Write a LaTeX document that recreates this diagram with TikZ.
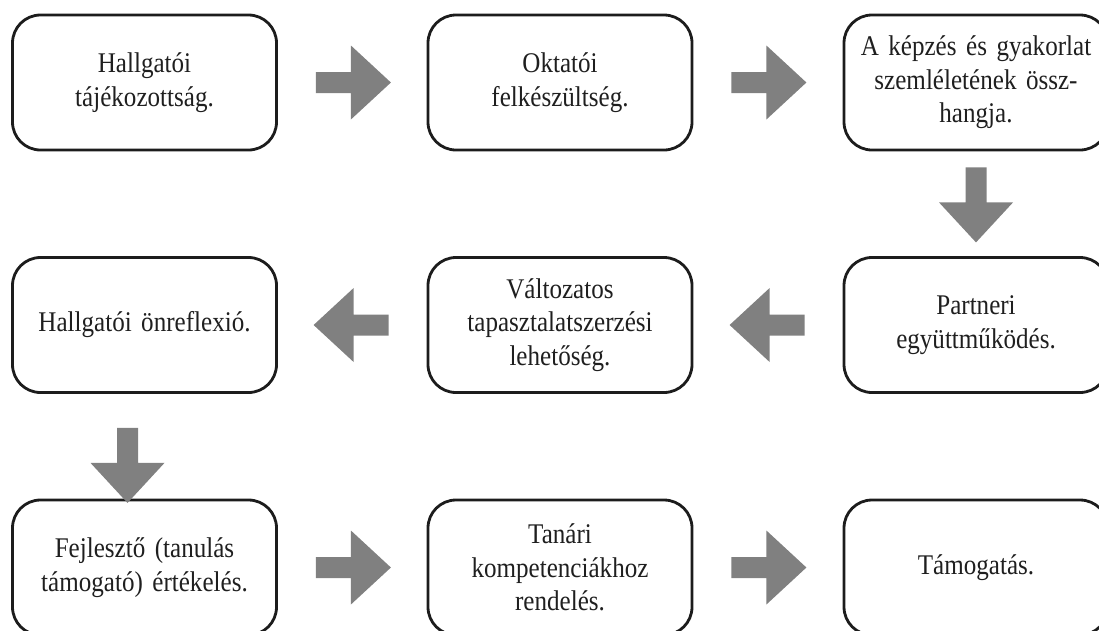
\documentclass[tikz,border=0pt]{standalone}
\usepackage{fontspec}
\setmainfont[FakeStretch=0.88]{Liberation Serif}
\usetikzlibrary{calc}
\definecolor{arrowgray}{RGB}{128,128,128}
\definecolor{boxline}{RGB}{28,28,28}
\tikzset{
  stage/.style={draw=boxline, line width=2.8pt, rounded corners=28pt,
    minimum width=264pt, minimum height=135pt, inner sep=0pt,
    align=center, text width=258pt, fill=white, text=black!88,
    font=\fontsize{28.5}{33.5}\selectfont},
  pics/blockarrow/.style={code={
    \fill[arrowgray] (0,-10.5) -- (35,-10.5) -- (35,-37) -- (75,0)
      -- (35,37) -- (35,10.5) -- (0,10.5) -- cycle;}}
}
\begin{document}
\begin{tikzpicture}[x=1pt,y=-1pt]
\useasboundingbox (0,0) rectangle (1099,630);
\clip (0,0) rectangle (1099,630);

% stages, row by row
\node[stage] (b1) at (144.5,82.5) {Hallgatói\\tájékozottság.};
\node[stage] (b2) at (560,82.5) {Oktatói\\felkészültség.};
\node[stage] (b3) at (976,82.5) {A képzés és gyakorlat\\szemléletének össz-\\hangja.};
\node[stage] (b4) at (976,325) {Partneri\\együttműködés.};
\node[stage] (b5) at (560,325) {Változatos\\tapasztalatszerzési\\lehetőség.};
\node[stage] (b6) at (144.5,325) {Hallgatói önreflexió.};
\node[stage] (b7) at (144.5,567.5) {Fejlesztő (tanulás\\támogató) értékelés.};
\node[stage] (b8) at (560,567.5) {Tanári\\kompetenciákhoz\\rendelés.};
\node[stage] (b9) at (976,567.5) {Támogatás.};

% block arrows between the stages
\pic at ($(b1.east)+(38,0)$) {blockarrow};
\pic at ($(b2.east)+(38,0)$) {blockarrow};
\pic[rotate=-90] at ($(b3.south)+(0,16)$) {blockarrow};
\pic[rotate=180] at ($(b4.west)+(-38,0)$) {blockarrow};
\pic[rotate=180] at ($(b5.west)+(-38,0)$) {blockarrow};
\pic[rotate=-90] at ($(b6.south)+(-17,34)$) {blockarrow};
\pic at ($(b7.east)+(38,0)$) {blockarrow};
\pic at ($(b8.east)+(38,0)$) {blockarrow};
\end{tikzpicture}
\end{document}
